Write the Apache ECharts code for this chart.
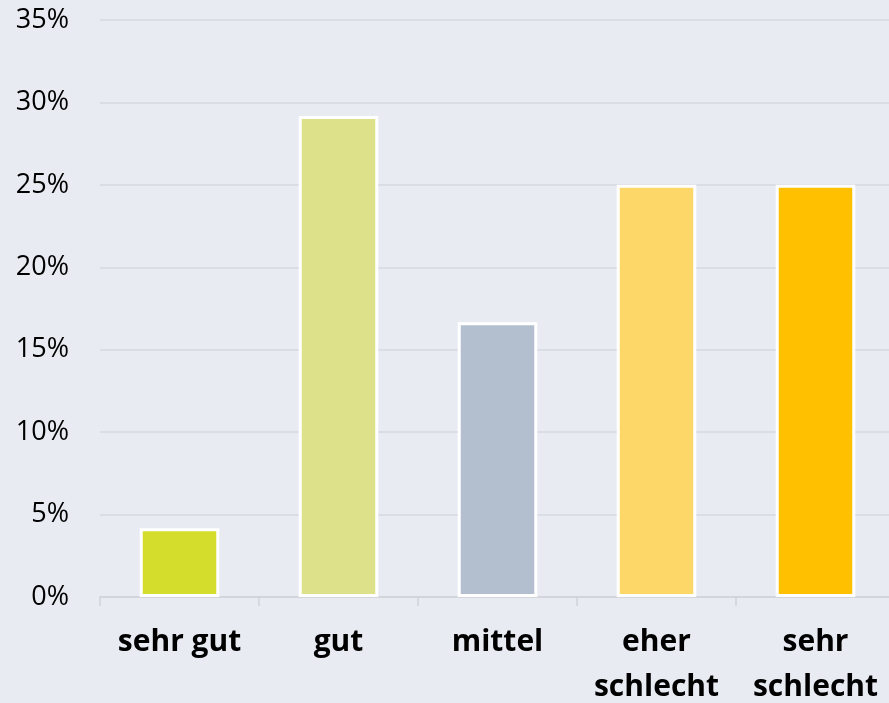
<!DOCTYPE html>
<html><head><meta charset="utf-8">
<script src="https://cdn.jsdelivr.net/npm/echarts@6/dist/echarts.min.js"></script>
<style>html,body{margin:0;padding:0;background:#E8ECF2;}#c{width:889px;height:703px;}</style>
</head><body><div id="c"></div>
<script>
const categories = ['sehr gut', 'gut', 'mittel', 'eher\nschlecht', 'sehr\nschlecht'];
const values = [4.17, 29.17, 16.67, 25.0, 25.0];
const barColors = ['#D4DC2C', '#DDE28A', '#B3BFCE', '#FDD767', '#FFC000'];
const yTicks = { min: 0, max: 35, interval: 5 };

const chart = echarts.init(document.getElementById('c'));
chart.setOption({
  backgroundColor: '#E8ECF2',
  animation: false,
  grid: { left: 100, right: -6, top: 20, bottom: 106, containLabel: false, outerBoundsMode: 'none' },
  xAxis: {
    type: 'category',
    data: categories,
    axisLine: { lineStyle: { color: '#D0D3D8', width: 1.5 } },
    axisTick: { show: true, length: 9, lineStyle: { color: '#D0D3D8', width: 1.5 } },
    axisLabel: { fontFamily: 'Open Sans', fontWeight: 'bold', fontSize: 30, color: '#000', margin: 23, lineHeight: 45, interval: 0 }
  },
  yAxis: {
    type: 'value',
    min: yTicks.min, max: yTicks.max, interval: yTicks.interval,
    axisLabel: { formatter: '{value}%', fontFamily: 'Open Sans', fontSize: 27, color: '#000', margin: 31 },
    axisLine: { show: false }, axisTick: { show: false },
    splitLine: { lineStyle: { color: '#D6D9DE', width: 1.5 } }
  },
  series: [{
    type: 'bar',
    barWidth: '50%',
    data: values.map((v, i) => ({ value: v, itemStyle: { color: barColors[i] } })),
    itemStyle: { borderColor: '#FFFFFF', borderWidth: 3 }
  }]
});
</script></body></html>
